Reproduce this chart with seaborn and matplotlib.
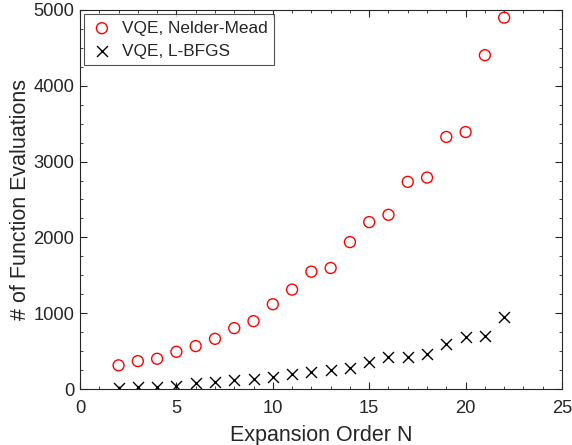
import numpy as np
import pandas as pd
import matplotlib
matplotlib.use("Agg")
import matplotlib.pyplot as plt
import seaborn as sns
from matplotlib.ticker import MultipleLocator

# Data
N = [2, 3, 4, 5, 6, 7, 8, 9, 10, 11, 12, 13, 14, 15, 16, 17, 18, 19, 20, 21, 22]
nelder_mead = [312, 368, 399, 491, 566, 662, 803, 895, 1118, 1311, 1548, 1596,
               1938, 2202, 2298, 2733, 2789, 3325, 3390, 4404, 4899]
lbfgs = [10, 22, 31, 44, 75, 88, 118, 132, 162, 193, 228, 250,
         281, 360, 417, 417, 465, 592, 689, 697, 956]
series_names = ["VQE, Nelder-Mead", "VQE, L-BFGS"]
x_label = "Expansion Order N"
y_label = "# of Function Evaluations"

df = pd.DataFrame({
    "N": N * 2,
    "evals": nelder_mead + lbfgs,
    "method": [series_names[0]] * len(N) + [series_names[1]] * len(N),
})

sns.set_style("white")
plt.rcParams['font.family'] = ['Liberation Sans', 'DejaVu Sans']
text_color = "#262626"
axis_color = "#262626"

fig = plt.figure(figsize=(5.72, 4.45), dpi=100)
ax = fig.add_axes([80/572, 1 - 389/445, (562-80)/572, (389-10)/445])

sns.scatterplot(data=df[df.method == series_names[0]], x="N", y="evals", ax=ax,
                marker="o", s=62, facecolors="none", edgecolor="#ff0000",
                linewidth=1.0, label=series_names[0])
sns.scatterplot(data=df[df.method == series_names[1]], x="N", y="evals", ax=ax,
                marker="x", s=62, color="black", linewidth=1.0,
                label=series_names[1])

ax.set_xlim(0, 25)
ax.set_ylim(0, 5000)
ax.xaxis.set_major_locator(MultipleLocator(5))
ax.xaxis.set_minor_locator(MultipleLocator(1))
ax.yaxis.set_major_locator(MultipleLocator(1000))
ax.yaxis.set_minor_locator(MultipleLocator(250))

for sp in ax.spines.values():
    sp.set_visible(True)
    sp.set_color(axis_color)
    sp.set_linewidth(0.8)

ax.tick_params(which="both", direction="in", top=True, right=True,
               bottom=True, left=True, color=axis_color,
               labelsize=13.2, labelcolor=text_color)
ax.tick_params(which="major", length=5, width=0.8)
ax.tick_params(which="minor", length=2.5, width=0.6)
ax.tick_params(axis="x", which="major", pad=8)
ax.tick_params(axis="y", which="major", pad=4)

ax.set_xlabel(x_label, fontsize=15.5, color=text_color, labelpad=5.5)
ax.set_ylabel(y_label, fontsize=15.5, color=text_color, labelpad=2)

leg = ax.legend(loc="upper left", prop={"size": 12.4}, frameon=True,
                fancybox=False, edgecolor=text_color, borderaxespad=0.22,
                handletextpad=0.5, borderpad=0.4, labelspacing=0.45,
                handlelength=1.3)
leg.get_frame().set_linewidth(0.8)
for t in leg.get_texts():
    t.set_color(text_color)

fig.savefig("out.png", dpi=100)
